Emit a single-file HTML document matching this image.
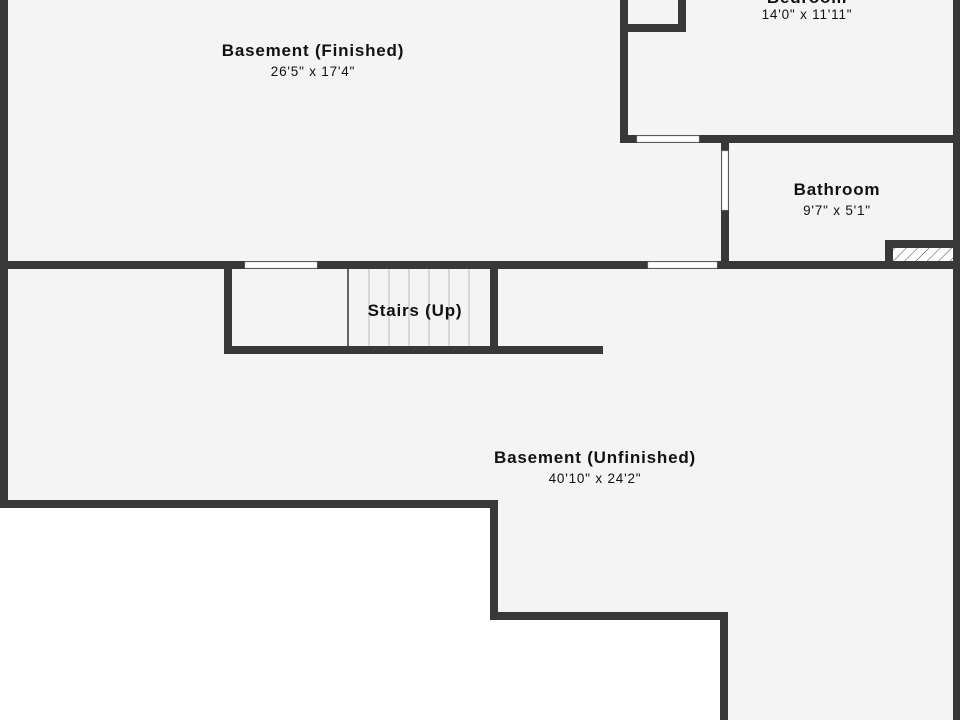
<!DOCTYPE html>
<html><head><style>
body{margin:0;width:960px;height:720px;overflow:hidden;background:#fff;font-family:"Liberation Sans",sans-serif}
svg{display:block}
text{font-family:"Liberation Sans",sans-serif;fill:#111;text-anchor:middle}
.t{font-size:17px;font-weight:bold;letter-spacing:0.8px}
.s{font-size:13.5px;letter-spacing:0.8px}
</style></head><body>
<svg width="960" height="720" viewBox="0 0 960 720">
<defs><pattern id="h" width="8" height="8" patternUnits="userSpaceOnUse" patternTransform="rotate(45)"><rect width="8" height="8" fill="#fff"/><line x1="0" y1="0" x2="0" y2="8" stroke="#444" stroke-width="1"/></pattern></defs>
<polygon points="0,0 960,0 960,720 724,720 724,616 494,616 494,504 0,504" fill="#f4f4f4"/>
<g fill="#383838">
<rect x="0" y="0" width="8" height="508"/>
<rect x="0" y="500" width="498" height="8"/>
<rect x="490" y="500" width="8" height="120"/>
<rect x="490" y="612" width="238" height="8"/>
<rect x="720" y="612" width="8" height="108"/>
<rect x="953" y="0" width="7" height="720"/>
<rect x="620" y="0" width="8" height="143"/>
<rect x="620" y="24" width="66" height="8"/>
<rect x="678" y="0" width="8" height="32"/>
<rect x="620" y="135" width="340" height="8"/>
<rect x="721" y="135" width="8" height="133"/>
<rect x="0" y="261" width="960" height="8"/>
<rect x="224" y="261" width="8" height="93"/>
<rect x="224" y="346" width="379" height="8"/>
<rect x="490" y="261" width="8" height="93"/>
<rect x="885" y="240" width="75" height="8"/>
<rect x="885" y="240" width="8" height="28"/>
</g>
<rect x="628" y="0" width="50" height="24" fill="#f4f4f4"/>
<rect x="637" y="136" width="62" height="6" fill="#fff" stroke="#bbb" stroke-width="0.5"/>
<rect x="722" y="151" width="6" height="59" fill="#fff" stroke="#bbb" stroke-width="0.5"/>
<rect x="245" y="262" width="72" height="6" fill="#fff" stroke="#bbb" stroke-width="0.5"/>
<rect x="648" y="262" width="69" height="6" fill="#fff" stroke="#bbb" stroke-width="0.5"/>
<rect x="893" y="248" width="60" height="13" fill="url(#h)"/>
<line x1="348" y1="269" x2="348" y2="346" stroke="#333" stroke-width="1.5"/>
<g stroke="#bbb" stroke-width="1">
<line x1="369" y1="269" x2="369" y2="346"/><line x1="389" y1="269" x2="389" y2="346"/><line x1="409" y1="269" x2="409" y2="346"/><line x1="429" y1="269" x2="429" y2="346"/><line x1="449" y1="269" x2="449" y2="346"/><line x1="469" y1="269" x2="469" y2="346"/>
</g>
<text x="313" y="56" class="t">Basement (Finished)</text>
<text x="313" y="76" class="s">26'5" x 17'4"</text>
<text x="807" y="3" class="t">Bedroom</text>
<text x="807" y="19" class="s">14'0" x 11'11"</text>
<text x="837" y="195" class="t">Bathroom</text>
<text x="837" y="215" class="s">9'7" x 5'1"</text>
<text x="415" y="316" class="t">Stairs (Up)</text>
<text x="595" y="463" class="t">Basement (Unfinished)</text>
<text x="595" y="483" class="s">40'10" x 24'2"</text>
</svg>
</body></html>
